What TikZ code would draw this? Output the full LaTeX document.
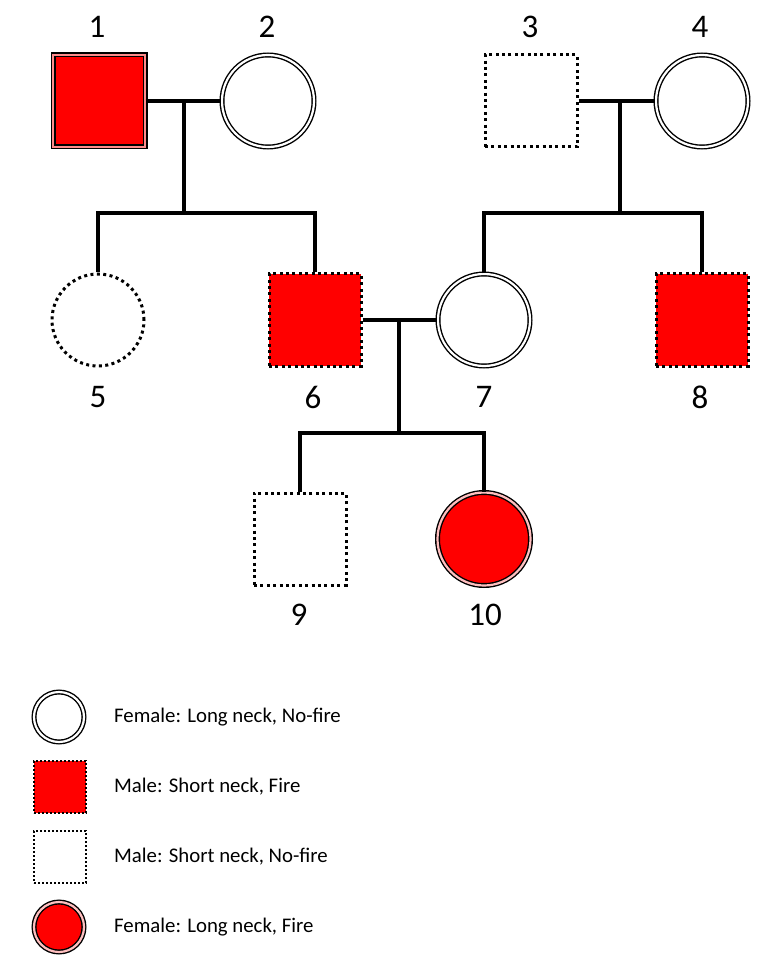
\documentclass[tikz,border=0pt]{standalone}
\usepackage{fontspec}
\setmainfont{Carlito}
\usetikzlibrary{calc,
	positioning,
	shapes}
\tikzstyle{conn}=[draw, line width=3.2pt]
\tikzstyle{sq}=[rectangle, minimum width=92pt, minimum height=92pt, inner sep=0]
\tikzstyle{ci}=[circle, minimum size=92pt, inner sep=0]
\tikzstyle{dbl}=[draw, line width=1.4pt, double distance=2.2pt]
\tikzstyle{dotline}=[draw, line width=3pt, dash pattern=on 3pt off 3.4pt]
\tikzstyle{fmn}=[ci, dbl, double=white, fill=white]
\tikzstyle{fmf}=[ci, dbl, double=red!25, fill=red, minimum size=93pt]
\tikzstyle{mf}=[sq, dotline, fill=red]
\tikzstyle{mn}=[sq, dotline, fill=white]
\tikzstyle{fx}=[ci, dotline, fill=white]
\tikzstyle{mx}=[sq, dbl, double=red!45, fill=red]
\tikzstyle{num}=[font=\fontsize{33}{36}\selectfont, inner sep=0]
\tikzstyle{txt}=[font=\fontsize{20.8}{24}\selectfont, anchor=west, inner sep=0]

\begin{document}
\begin{tikzpicture}[x=1pt, y=-1pt]
\useasboundingbox (0,0) rectangle (771,957);
\node[mx] (n1) at (99,101) {};
\node[fmn] (n2) at (268,101) {};
\node[mn] (n3) at (531,101) {};
\node[fmn] (n4) at (702,101) {};
\node[fx] (n5) at (98,320) {};
\node[mf] (n6) at (315,320) {};
\node[fmn] (n7) at (484,320) {};
\node[mf] (n8) at (702,320) {};
\node[mn] (n9) at (300,539) {};
\node[fmf] (n10) at (484,539) {};

\node[num] (l1) at (97,27) {1};
\node[num] (l2) at (267,27) {2};
\node[num] (l3) at (530,27) {3};
\node[num] (l4) at (700,27) {4};
\node[num] (l5) at (98,397) {5};
\node[num] (l6) at (313,397) {6};
\node[num] (l7) at (484,397) {7};
\node[num] (l8) at (700,397) {8};
\node[num] (l9) at (299,615) {9};
\node[num] (l10) at (485,615) {10};

\coordinate (m12) at (184,101);
\coordinate (b12) at (184,213);
\coordinate (m34) at (620,101);
\coordinate (b34) at (620,213);
\coordinate (m67) at (399,320);
\coordinate (b67) at (399,433);

\draw[conn] (n1.east) -- (n2.west);
\draw[conn] (m12) -- (b12);
\draw[conn] (n5.north) |- (b12) -| (n6.north);
\draw[conn] (n3.east) -- (n4.west);
\draw[conn] (m34) -- (b34);
\draw[conn] (n7.north) |- (b34) -| (n8.north);
\draw[conn] (n6.east) -- (n7.west);
\draw[conn] (m67) -- (b67);
\draw[conn] (n9.north) |- (b67) -| (n10.north);

\node[fmn, minimum size=50pt] (k1) at (59,717) {};
\node[mf, minimum width=52pt, minimum height=52pt, line width=2pt, dash pattern=on 2pt off 2pt] (k2) at (60,787) {};
\node[mn, minimum width=52pt, minimum height=52pt, line width=2pt, dash pattern=on 2pt off 2pt] (k3) at (60,857) {};
\node[fmf, minimum size=50pt] (k4) at (59,927) {};
\node[txt] (t1) at (114,717) {Female: Long neck, No-fire};
\node[txt] (t2) at (114,787) {Male: Short neck, Fire};
\node[txt] (t3) at (114,857) {Male: Short neck, No-fire};
\node[txt] (t4) at (114,927) {Female: Long neck, Fire};
\end{tikzpicture}
\end{document}
